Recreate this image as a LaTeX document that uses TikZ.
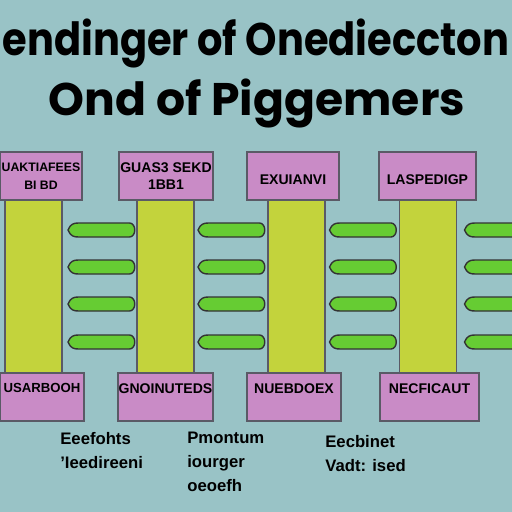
\documentclass[tikz,border=0pt]{standalone}
\usepackage{fontspec}
\setmainfont{Liberation Sans}
\newfontfamily\headfont{Poppins}
\usepackage{tikz}
\usetikzlibrary{positioning}
\definecolor{bgteal}{HTML}{99C3C6}
\definecolor{boxpink}{HTML}{C98BC6}
\definecolor{baryellow}{HTML}{C3D33C}
\definecolor{arrgreen}{HTML}{66CC33}
\definecolor{edgegray}{HTML}{5A5A66}
\tikzset{
  title/.style={font=\headfont\bfseries\fontsize{26}{26}\selectfont,
    anchor=base,inner sep=0pt},
  tbox/.style={draw=edgegray,line width=0.8pt,fill=boxpink,
    minimum height=0.96cm,inner sep=0pt,align=center,
    font=\bfseries\fontsize{8}{10}\selectfont},
  colbar/.style={draw=edgegray,line width=0.6pt,fill=baryellow,
    minimum width=1.14cm,minimum height=3.46cm,inner sep=0pt},
  arrowbody/.style={draw=black!80,line width=0.8pt,fill=arrgreen,
    line join=round},
  greenarrow/.pic={
    \path[arrowbody] (-33.5,0) .. controls (-31,-6) and (-28,-7) .. (-23,-7)
      -- (28,-7) .. controls (35,-7) and (35,7) .. (28,7)
      -- (-23,7) .. controls (-28,7) and (-31,6) .. (-33.5,0) -- cycle;
    \coordinate (-tip) at (-33.5,0);
  },
  note/.style={align=left,anchor=north west,inner sep=0pt,
    font=\bfseries\fontsize{9.5}{13.6}\selectfont}
}
\begin{document}
\begin{tikzpicture}[x=0.02cm,y=-0.02cm]
  \useasboundingbox[fill=bgteal] (0,0) rectangle (512,512);
  \clip (0,0) rectangle (512,512);

  % heading
  \node[title,xscale=0.875] (L1) at (256,55) {endinger of Onedieccton};
  \node[title] (L2) at (257,115) {Ond of Piggemers};

  % columns
  \node[colbar] (C1) at (33.5,286.5) {};
  \node[colbar] (C2) at (165.5,286.5) {};
  \node[colbar] (C3) at (296.5,286.5) {};
  \node[colbar] (C4) at (428,286.5) {};

  % top labels
  \node[tbox,minimum width=1.64cm,font=\bfseries\fontsize{7}{10}\selectfont]
    (T1) at (41,176) {UAKTIAFEES\\BI BD};
  \node[tbox,minimum width=1.88cm] (T2) at (166,176) {GUAS3 SEKD\\1BB1};
  \node[tbox,minimum width=1.84cm] (T3) at (293,176) {\mbox{}\\EXUIANVI};
  \node[tbox,minimum width=1.94cm] (T4) at (427.5,176) {\mbox{}\\LASPEDIGP};

  % bottom labels
  \node[tbox,minimum width=1.68cm,font=\bfseries\fontsize{7.5}{10}\selectfont]
    (B1) at (42,397) {USARBOOH\\\mbox{}};
  \node[tbox,minimum width=1.90cm] (B2) at (165.5,397) {GNOINUTEDS\\\mbox{}};
  \node[tbox,minimum width=1.88cm] (B3) at (294,397) {NUEBDOEX\\\mbox{}};
  \node[tbox,minimum width=1.98cm] (B4) at (429.5,397) {NECFICAUT\\\mbox{}};

  % arrows between the columns
  \foreach \c/\xa in {1/101.5,2/231.5,3/363,4/498}
    \foreach \r in {230,267,304,342}
      \pic (A\c-\r) at (\xa,\r) {greenarrow};

  % notes
  \node[note] (N1) at (60,432) {Eeefohts\\'Ieedireeni};
  \node[note] (N2) at (187,432) {Pmontum\\iourger\\oeoefh};
  \node[note] (N3) at (325,435) {Eecbinet\\Vadt: ised};
\end{tikzpicture}
\end{document}
